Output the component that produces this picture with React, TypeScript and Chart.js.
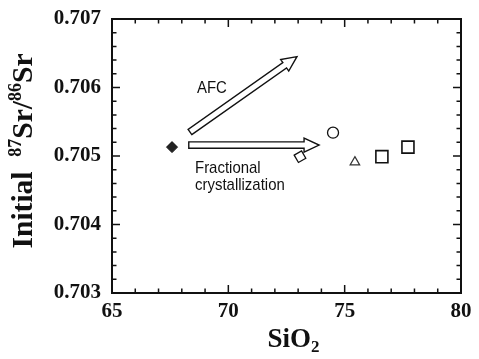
import React, { useEffect, useRef } from "react";
import { Chart, registerables } from "chart.js";

Chart.register(...registerables);

// Data (SiO2 wt%, initial 87Sr/86Sr)
const parentRock = [{ x: 67.58, y: 0.70513 }];
const circleSamples = [{ x: 74.5, y: 0.70534 }];
const diamondSamples = [{ x: 73.08, y: 0.70499 }];
const triangleSamples = [{ x: 75.44, y: 0.70491 }];
const squareSamples = [
  { x: 76.6, y: 0.70499 },
  { x: 77.72, y: 0.70513 },
];
// Trend arrows [start, end]
const afcArrow = [
  { x: 68.35, y: 0.70535 },
  { x: 72.95, y: 0.70645 },
];
const fcArrow = [
  { x: 68.3, y: 0.70516 },
  { x: 73.9, y: 0.70516 },
];
const xTicks = [65, 70, 75, 80];
const yTicks = [0.703, 0.704, 0.705, 0.706, 0.707];

const SERIF = "'Liberation Serif', 'Times New Roman', serif";
const SANS = "'Liberation Sans', Arial, sans-serif";

function drawArrow(ctx: CanvasRenderingContext2D, x0: number, y0: number, x1: number, y1: number) {
  const dx = x1 - x0;
  const dy = y1 - y0;
  const len = Math.sqrt(dx * dx + dy * dy);
  const ux = dx / len;
  const uy = dy / len;
  const nx = -uy;
  const ny = ux;
  const sw = 3.2; // shaft half width
  const hw = 7; // head half width
  const hl = 15; // head length
  const pts: [number, number][] = [];
  const P = (a: number, b: number): [number, number] => [x0 + ux * a + nx * b, y0 + uy * a + ny * b];
  pts.push(P(0, sw));
  pts.push(P(len - hl, sw));
  pts.push(P(len - hl, hw));
  pts.push(P(len, 0));
  pts.push(P(len - hl, -hw));
  pts.push(P(len - hl, -sw));
  pts.push(P(0, -sw));
  ctx.beginPath();
  ctx.moveTo(pts[0][0], pts[0][1]);
  for (let i = 1; i < pts.length; i++) ctx.lineTo(pts[i][0], pts[i][1]);
  ctx.closePath();
  ctx.fillStyle = "#fff";
  ctx.fill();
  ctx.strokeStyle = "#111";
  ctx.lineWidth = 1.4;
  ctx.stroke();
}

const framePlugin = {
  id: "framePlugin",
  beforeDatasetsDraw(chart: any) {
    const { ctx, scales } = chart;
    const xs = scales.x;
    const ys = scales.y;
    ctx.save();
    drawArrow(
      ctx,
      xs.getPixelForValue(afcArrow[0].x),
      ys.getPixelForValue(afcArrow[0].y),
      xs.getPixelForValue(afcArrow[1].x),
      ys.getPixelForValue(afcArrow[1].y)
    );
    drawArrow(
      ctx,
      xs.getPixelForValue(fcArrow[0].x),
      ys.getPixelForValue(fcArrow[0].y),
      xs.getPixelForValue(fcArrow[1].x),
      ys.getPixelForValue(fcArrow[1].y)
    );
    ctx.fillStyle = "#111";
    ctx.font = `17px ${SANS}`;
    ctx.textAlign = "left";
    ctx.textBaseline = "alphabetic";
    const txt = (s: string, x: number, y: number) => {
      ctx.save();
      ctx.translate(x, y);
      ctx.scale(0.88, 1);
      ctx.fillText(s, 0, 0);
      ctx.restore();
    };
    txt("AFC", 197, 93);
    txt("Fractional", 195, 173);
    txt("crystallization", 195, 190);
    ctx.restore();
  },
  afterDatasetsDraw(chart: any) {
    const { ctx, chartArea: a, scales } = chart;
    const xs = scales.x;
    const ys = scales.y;
    ctx.save();
    ctx.strokeStyle = "#111";
    ctx.lineWidth = 2;
    ctx.strokeRect(a.left, a.top, a.right - a.left, a.bottom - a.top);
    ctx.lineWidth = 1.5;
    ctx.beginPath();
    for (let v = 65; v <= 80.001; v += 1) {
      const px = xs.getPixelForValue(v);
      const major = Math.abs(v % 5) < 1e-6;
      const L = major ? 8 : 4.5;
      ctx.moveTo(px, a.bottom);
      ctx.lineTo(px, a.bottom - L);
      ctx.moveTo(px, a.top);
      ctx.lineTo(px, a.top + L);
    }
    for (let i = 0; i <= 20; i++) {
      const v = 0.703 + i * 0.0002;
      const py = ys.getPixelForValue(v);
      const major = i % 5 === 0;
      const L = major ? 8 : 4.5;
      ctx.moveTo(a.left, py);
      ctx.lineTo(a.left + L, py);
      ctx.moveTo(a.right, py);
      ctx.lineTo(a.right - L, py);
    }
    ctx.stroke();

    ctx.fillStyle = "#111";
    ctx.textBaseline = "alphabetic";
    ctx.textAlign = "left";
    const big = `bold 27px ${SERIF}`;
    const small = `bold 17px ${SERIF}`;
    ctx.font = big;
    const w1 = ctx.measureText("SiO").width;
    ctx.font = small;
    const w2 = ctx.measureText("2").width;
    const cx = (a.left + a.right) / 2 + 7;
    const sx = cx - (w1 + w2) / 2;
    ctx.font = big;
    ctx.fillText("SiO", sx, 347);
    ctx.font = small;
    ctx.fillText("2", sx + w1, 352);

    ctx.save();
    ctx.translate(32, 151);
    ctx.rotate(-Math.PI / 2);
    const bigY = `bold 29.5px ${SERIF}`;
    const supY = `bold 18px ${SERIF}`;
    const segs: [string, string, number][] = [
      ["Initial", bigY, 0],
      ["  ", bigY, 0],
      ["87", supY, -11],
      ["Sr/", bigY, 0],
      ["86", supY, -11],
      ["Sr", bigY, 0],
    ];
    let total = 0;
    const widths: number[] = [];
    for (const s of segs) {
      ctx.font = s[1];
      const w = ctx.measureText(s[0]).width;
      widths.push(w);
      total += w;
    }
    let px = -total / 2;
    segs.forEach((s, i) => {
      ctx.font = s[1];
      ctx.fillText(s[0], px, s[2]);
      px += widths[i];
    });
    ctx.restore();
    ctx.restore();
  },
};

export default function App() {
  const ref = useRef<HTMLCanvasElement | null>(null);
  useEffect(() => {
    document.body.style.margin = "0";
    const canvas = ref.current;
    if (!canvas) return;
    const chart = new Chart(canvas, {
      type: "scatter",
      data: {
        datasets: [
          {
            data: parentRock,
            pointStyle: "rectRot",
            pointRadius: 5.5,
            backgroundColor: "#222",
            borderColor: "#111",
            borderWidth: 1,
          },
          {
            data: circleSamples,
            pointStyle: "circle",
            pointRadius: 5.5,
            backgroundColor: "#fff",
            borderColor: "#111",
            borderWidth: 1.3,
          },
          {
            data: diamondSamples,
            pointStyle: "rectRot",
            pointRadius: 6,
            rotation: 15,
            backgroundColor: "#fff",
            borderColor: "#111",
            borderWidth: 1.3,
          },
          {
            data: triangleSamples,
            pointStyle: "triangle",
            pointRadius: 5.5,
            backgroundColor: "#fff",
            borderColor: "#333",
            borderWidth: 1.2,
          },
          {
            data: squareSamples,
            pointStyle: "rect",
            pointRadius: 8.5,
            backgroundColor: "#fff",
            borderColor: "#111",
            borderWidth: 1.6,
          },
        ],
      },
      options: {
        responsive: false,
        animation: false,
        events: [],
        layout: { padding: { top: 19, right: 18, left: 0, bottom: 0 } },
        plugins: {
          legend: { display: false },
          tooltip: { enabled: false },
        },
        scales: {
          x: {
            type: "linear",
            min: 65,
            max: 80,
            afterBuildTicks: (s: any) => {
              s.ticks = xTicks.map((v) => ({ value: v }));
            },
            afterFit: (s: any) => {
              s.height = 66;
              s.paddingLeft = 0;
              s.paddingRight = 0;
            },
            grid: { display: false, drawTicks: false },
            border: { display: false },
            ticks: {
              padding: 6,
              color: "#111",
              font: { family: SERIF, size: 21, weight: "bold" },
              maxRotation: 0,
              callback: (v: any) => String(v),
            },
          },
          y: {
            type: "linear",
            min: 0.703,
            max: 0.707,
            afterBuildTicks: (s: any) => {
              s.ticks = yTicks.map((v) => ({ value: v }));
            },
            afterFit: (s: any) => {
              s.width = 112;
              s.paddingTop = 0;
              s.paddingBottom = 0;
            },
            grid: { display: false, drawTicks: false },
            border: { display: false },
            ticks: {
              padding: 11,
              color: "#111",
              font: { family: SERIF, size: 21, weight: "bold" },
              callback: (v: any) => Number(v).toFixed(3),
            },
          },
        },
      },
      plugins: [framePlugin],
    });
    return () => chart.destroy();
  }, []);
  return (
    <div style={{ width: 479, height: 359 }}>
      <canvas ref={ref} width={479} height={359} style={{ display: "block" }} />
    </div>
  );
}
